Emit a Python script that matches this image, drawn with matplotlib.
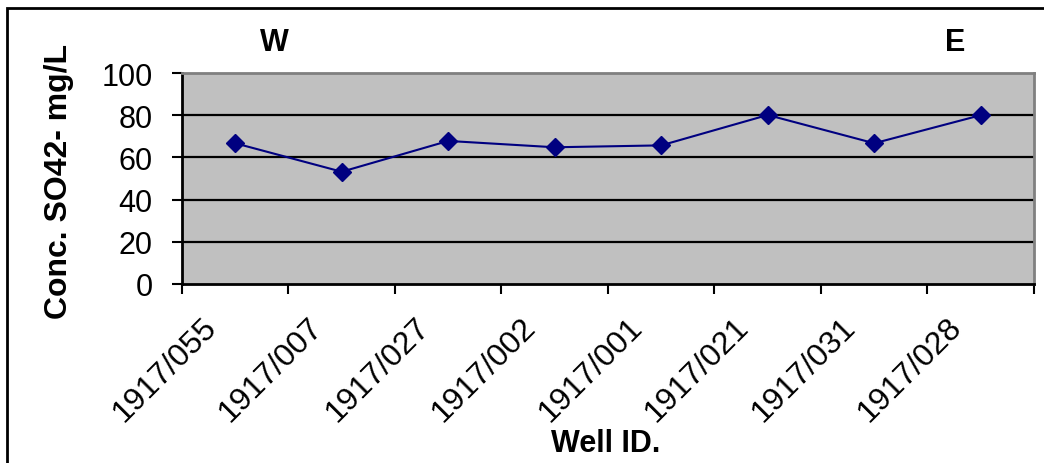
import numpy as np
import matplotlib
matplotlib.use("Agg")
from matplotlib import pyplot as plt
from matplotlib.patches import Rectangle
import matplotlib.transforms as mtransforms

plt.rcParams['font.family'] = ['Liberation Sans', 'DejaVu Sans']

wells = ["1917/055", "1917/007", "1917/027", "1917/002",
         "1917/001", "1917/021", "1917/031", "1917/028"]
so4 = [66.7, 53.2, 67.8, 64.8, 65.7, 80.1, 66.7, 80.0]
y_ticks = [0, 20, 40, 60, 80, 100]

fig = plt.figure(figsize=(10.44, 4.64), dpi=100)
ax = fig.add_axes([0.1743, 0.3858, 0.8161, 0.4547])
ax.set_facecolor("#C0C0C0")

x = np.arange(1, len(wells) + 1)
ax.set_xlim(0.5, len(wells) + 0.5)
ax.set_ylim(0, 100)

for v in y_ticks[1:-1]:
    ax.axhline(v, color="black", lw=1.6, zorder=1)

ax.plot(x, so4, color="#000080", lw=1.5, marker="D", markersize=9,
        markerfacecolor="#000080", markeredgecolor="#000080", zorder=3)

# category boundaries as major ticks, labels on the centres
ax.set_xticks(np.arange(0.5, len(wells) + 1, 1.0))
ax.set_xticklabels([])
ax.set_xticks(x, minor=True)
ax.set_xticklabels(wells, minor=True, rotation=45, ha="right",
                   rotation_mode="anchor", fontsize=23)
ax.tick_params(axis="x", which="minor", length=0, pad=20)
ax.tick_params(axis="x", which="major", length=7, width=1.5, direction="out")
offset = mtransforms.ScaledTranslation(-0.34, 0, fig.dpi_scale_trans)
for lab in ax.get_xticklabels(minor=True):
    lab.set_transform(lab.get_transform() + offset)

ax.set_yticks(y_ticks)
ax.set_yticklabels([str(v) for v in y_ticks], fontsize=22)
ax.tick_params(axis="y", length=7, width=1.5, pad=14)

for side in ["top", "right"]:
    ax.spines[side].set_color("#808080")
    ax.spines[side].set_linewidth(2)
for side in ["left", "bottom"]:
    ax.spines[side].set_color("black")
    ax.spines[side].set_linewidth(2)

ax.set_ylabel("Conc. SO42- mg/L", fontsize=23, fontweight="bold")
ax.yaxis.label.set_va("center")
ax.yaxis.set_label_coords(-0.1444, 0.49)
ax.set_xlabel("Well ID.", fontsize=22, fontweight="bold")
ax.xaxis.label.set_va("baseline")
ax.xaxis.set_label_coords(0.4977, -0.791)

fig.text(274 / 1044, 1 - 51 / 464, "W", fontsize=22, fontweight="bold",
         ha="center", va="baseline")
fig.text(955 / 1044, 1 - 51 / 464, "E", fontsize=22, fontweight="bold",
         ha="center", va="baseline")

fig.add_artist(Rectangle((7 / 1044, -0.05), 1.1, 1 - 9 / 464 + 0.05,
                         transform=fig.transFigure, fill=False,
                         edgecolor="black", lw=2))

fig.savefig("out.png", dpi=100)
